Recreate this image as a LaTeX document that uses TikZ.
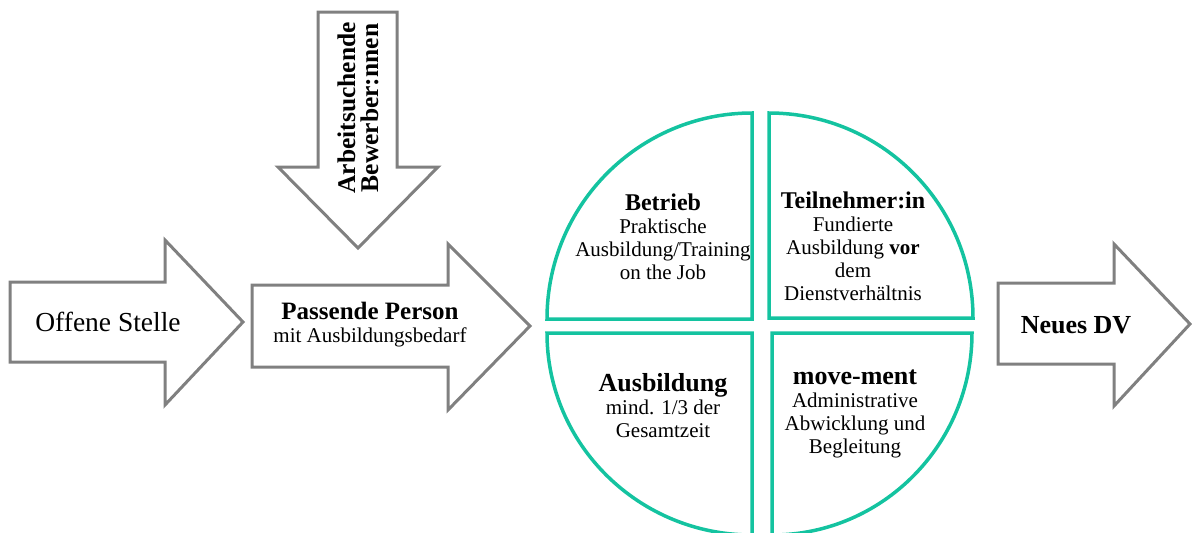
\documentclass[tikz,border=0pt]{standalone}
\usepackage{fontspec}
\setmainfont{Liberation Serif}

\definecolor{arrowgray}{RGB}{128,128,128}
\definecolor{quadgreen}{RGB}{20,195,160}

\tikzset{
    blockarrow/.style={draw=arrowgray, line width=3pt, fill=white},
    quarter/.style={draw=quadgreen, line width=3.5pt},
    txt/.style={align=center, font=\fontsize{21}{23}\selectfont},
}
\newcommand{\hd}[1]{{\fontsize{24}{26}\selectfont\bfseries #1}}
\newcommand{\bighd}[1]{{\fontsize{26}{28}\selectfont\bfseries #1}}

\begin{document}
\begin{tikzpicture}[x=1pt, y=-1pt]
\useasboundingbox (0,0) rectangle (1192,533);

\draw[blockarrow]
    (10,282) -- (165,282) -- (165,240) -- (243,322) -- (165,405) -- (165,362) -- (10,362) -- cycle;
\draw[blockarrow]
    (252,285) -- (448,285) -- (448,244) -- (530,326) -- (448,410) -- (448,367) -- (252,367) -- cycle;
\draw[blockarrow]
    (318,12) -- (397,12) -- (397,167) -- (438,167) -- (358,248) -- (278,167) -- (318,167) -- cycle;
\draw[blockarrow]
    (998,283) -- (1114,283) -- (1114,244) -- (1190,324) -- (1114,406) -- (1114,364) -- (998,364) -- cycle;

\draw[quarter]
    (752,319) -- (547,319) arc[start angle=180, end angle=90, x radius=205pt, y radius=206pt] -- cycle;
\draw[quarter]
    (769,318) -- (769,113) arc[start angle=90, end angle=0, x radius=204pt, y radius=205pt] -- cycle;
\draw[quarter]
    (752,333) -- (547,333) arc[start angle=180, end angle=270, x radius=205pt, y radius=202pt] -- cycle;
\draw[quarter]
    (772,333) -- (972,333) arc[start angle=0, end angle=-90, x radius=200pt, y radius=202pt] -- cycle;

\node[txt, font=\fontsize{27.5}{29}\selectfont] (stelle) at (108,322) {Offene Stelle};
\node[txt] (person) at (370,325) {{\fontsize{25}{27}\selectfont\bfseries Passende Person}\\mit Ausbildungsbedarf};
\node[txt, rotate=90] (bewerber) at (358,108) {{\fontsize{25.5}{27}\selectfont\bfseries Arbeitsuchende}\\{\fontsize{25.5}{27}\selectfont\bfseries Bewerber:nnen}};
\node[txt] (betrieb) at (663,237) {\hd{Betrieb}\\Praktische\\Ausbildung/Training\\on the Job};
\node[txt] (teilnehmer) at (853,246) {\hd{Teilnehmer:in}\\Fundierte\\Ausbildung \textbf{vor}\\dem\\Dienstverhältnis};
\node[txt] (ausbildung) at (663,406) {\bighd{Ausbildung}\\mind. 1/3 der\\Gesamtzeit};
\node[txt] (movement) at (855,414) {\bighd{move-ment}\\Administrative\\Abwicklung und\\Begleitung};
\node[txt, font=\fontsize{26}{28}\selectfont\bfseries] (dv) at (1076,325) {Neues DV};
\end{tikzpicture}
\end{document}
